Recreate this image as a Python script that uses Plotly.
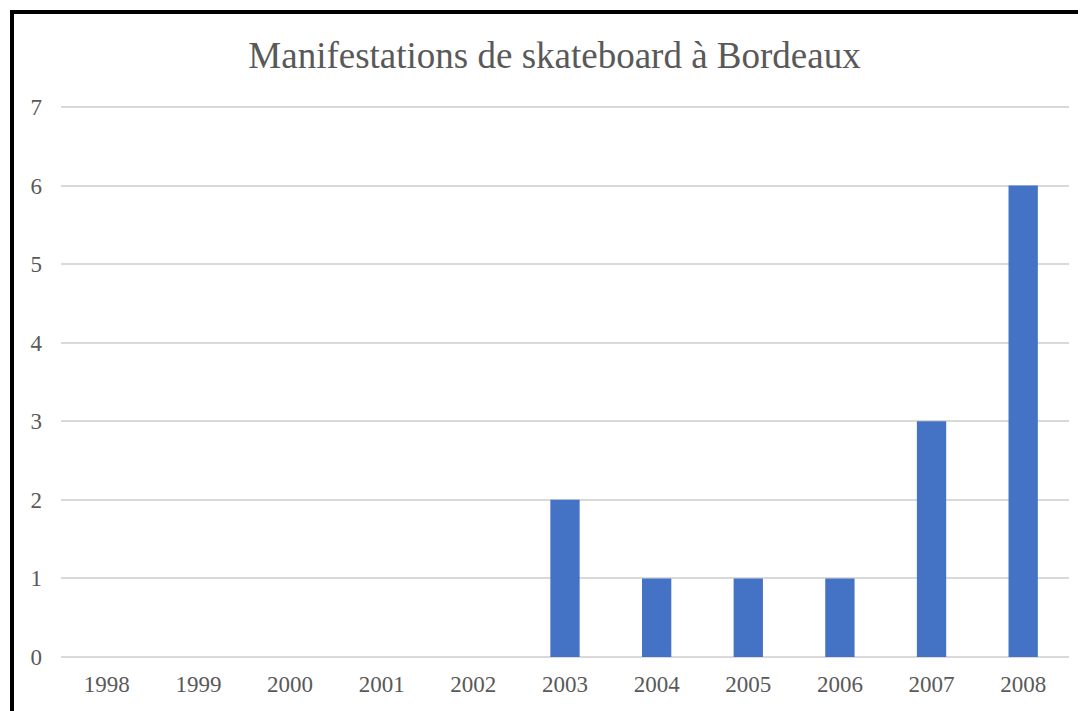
import plotly.graph_objects as go

years = ["1998", "1999", "2000", "2001", "2002", "2003", "2004", "2005", "2006", "2007", "2008"]
counts = [0, 0, 0, 0, 0, 2, 1, 1, 1, 3, 6]
y_ticks = [0, 1, 2, 3, 4, 5, 6, 7]

title_text = "Manifestations de skateboard à Bordeaux"
font_family = "Liberation Serif, Times New Roman, serif"
text_color = "#595959"

# page has an 8px body margin, so the figure is drawn 8px smaller/offset
OFF = 8
YMAX = 7.05
W, H = 1086 - OFF, 711 - OFF
L = 61 - OFF
T = 103 - OFF
R = W - (1069 - OFF)
B = H - (657 - OFF)
pw, ph = W - L - R, H - T - B

def px_to_paper_x(px):
    return (px - OFF - L) / pw

def px_to_paper_y(py):
    return (H - B - (py - OFF)) / ph

fig = go.Figure(
    go.Bar(
        x=years,
        y=counts,
        marker=dict(color="#4472C4", line=dict(width=0)),
    )
)

fig.update_layout(
    width=W,
    height=H,
    margin=dict(l=L, r=R, t=T, b=B),
    plot_bgcolor="white",
    paper_bgcolor="white",
    bargap=0.68,
    showlegend=False,
    font=dict(family=font_family, color=text_color),
    title=dict(
        text=title_text,
        x=(554.5 - OFF) / W,
        xref="container",
        xanchor="center",
        y=1 - (55 - OFF) / H,
        yanchor="middle",
        font=dict(size=37, color=text_color, family=font_family),
    ),
    xaxis=dict(
        type="category",
        tickfont=dict(size=23, color=text_color),
        showgrid=False,
        showline=False,
        ticks="",
        ticklabelstandoff=11,
    ),
    yaxis=dict(
        range=[0, YMAX],
        tickvals=y_ticks,
        tickfont=dict(size=23, color=text_color),
        showgrid=True,
        gridcolor="#d9d9d9",
        gridwidth=1.5,
        zeroline=True,
        zerolinecolor="#d9d9d9",
        zerolinewidth=1.5,
        showline=False,
        ticks="",
        ticklabelstandoff=18,
    ),
    shapes=[
        dict(
            type="rect",
            xref="paper",
            yref="paper",
            x0=px_to_paper_x(12),
            x1=px_to_paper_x(1100),
            y0=px_to_paper_y(725),
            y1=px_to_paper_y(12),
            line=dict(color="black", width=4),
            fillcolor="rgba(0,0,0,0)",
            layer="above",
        )
    ],
)

fig.write_html("out.html")
